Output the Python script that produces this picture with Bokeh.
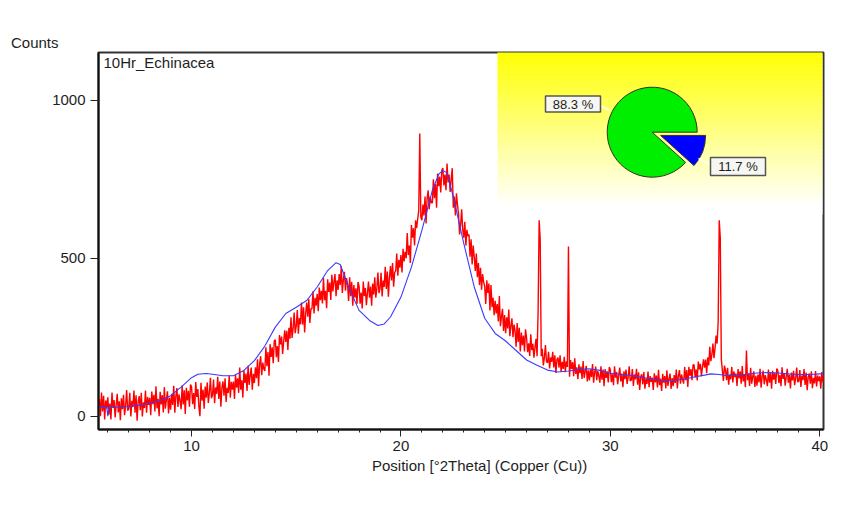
from bokeh.plotting import figure
from bokeh.models import Range1d, FixedTicker, Label, Title
from bokeh.embed import file_html
from bokeh.resources import INLINE
import math

# ---------------- data ----------------
SAMPLE_NAME = "10Hr_Echinacea"
SCAN_START = 5.6      # deg 2Theta
SCAN_STEP = 0.05      # deg 2Theta

# measured counts (red), one value per scan step from 5.60 to 40.20
RED_COUNTS = [
    55, 0, 75, 15, 65, -10, 50, 25,
    60, 5, 40, -10, 75, 26, 51, -4, 36, 71, 12, 47, -13, 57, 22, 68, 3, 33, 83, 18,
    24, 74, -1, 49, 29, 81, 11, 66, -14, 46, 64, 19, 74, -1, 44, 26, 81, 11, 61, 36,
    58, 3, 78, 38, 68, 15, 95, 25, 55, 0, 77, 37, 67, 12, 92, 24, 54, 79, 9, 59,
    21, 71, 36, 96, 11, 64, 89, 29, 69, 49, 22, 97, 37, 82, 7, 90, 50, 80, 30, 100,
    93, 38, 73, 23, 108, 61, 86, 31, 0, 106, 49, 84, 24, 94, 59, 107, 42, 72, 122, 57,
    66, 116, 41, 91, 71, 125, 55, 110, 30, 90, 110, 65, 120, 45, 90, 74, 129, 59, 109, 84,
    110, 55, 130, 90, 120, 74, 154, 84, 114, 59, 145, 105, 135, 80, 160, 99, 129, 154, 84, 134,
    105, 155, 120, 180, 95, 165, 190, 130, 170, 150, 143, 218, 158, 203, 128, 228, 188, 218, 168, 238,
    242, 187, 222, 172, 257, 227, 252, 197, 237, 272, 235, 270, 210, 280, 245, 313, 248, 278, 328, 263,
    286, 336, 261, 311, 291, 360, 290, 345, 265, 325, 360, 315, 370, 295, 340, 340, 395, 325, 375, 350,
    387, 332, 407, 367, 397, 357, 437, 367, 397, 342, 433, 393, 423, 368, 448, 395, 425, 450, 380, 430,
    400, 450, 415, 475, 390, 432, 457, 397, 437, 417, 365, 440, 380, 425, 350, 415, 375, 405, 355, 425,
    411, 356, 391, 341, 426, 381, 406, 351, 391, 426, 375, 410, 350, 420, 385, 440, 375, 405, 455, 390,
    404, 454, 379, 429, 409, 473, 403, 458, 378, 438, 475, 430, 485, 410, 455, 460, 515, 445, 495, 470,
    510, 455, 530, 490, 520, 500, 580, 510, 540, 485, 605, 565, 595, 540, 620, 595, 625, 650, 895, 630,
    620, 670, 635, 695, 610, 690, 715, 655, 695, 675, 675, 750, 690, 735, 660, 768, 728, 758, 708, 778,
    785, 730, 765, 715, 800, 740, 765, 710, 750, 785, 660, 695, 635, 705, 670, 640, 575, 605, 655, 590,
    565, 615, 540, 590, 570, 575, 505, 560, 480, 540, 505, 460, 515, 440, 485, 415, 470, 400, 450, 425,
    410, 355, 430, 390, 420, 335, 415, 345, 375, 320, 365, 325, 355, 300, 380, 285, 315, 340, 270, 320,
    263, 313, 278, 338, 253, 285, 310, 250, 290, 270, 220, 295, 235, 280, 205, 265, 225, 255, 205, 275,
    247, 203, 231, 191, 259, 209, 229, 185, 217, 245, 190, 330, 620, 560, 190, 213, 161, 185, 225, 173,
    169, 204, 151, 186, 172, 204, 154, 193, 137, 179, 186, 154, 193, 140, 172, 150, 188, 139, 174, 156,
    537, 125, 178, 150, 171, 127, 183, 134, 155, 117, 164, 136, 157, 118, 175, 121, 142, 159, 110, 145,
    113, 148, 124, 165, 106, 139, 157, 114, 143, 128, 106, 158, 116, 148, 95, 149, 121, 142, 107, 156,
    147, 108, 133, 98, 158, 122, 140, 101, 130, 154, 110, 135, 92, 142, 117, 148, 102, 123, 158, 112,
    114, 149, 96, 132, 117, 150, 100, 139, 83, 125, 133, 101, 140, 87, 119, 102, 141, 92, 127, 109,
    122, 83, 136, 107, 129, 91, 147, 98, 119, 80, 134, 106, 127, 88, 145, 96, 118, 135, 86, 121,
    95, 130, 105, 148, 88, 128, 146, 103, 132, 117, 103, 156, 114, 146, 93, 156, 128, 149, 114, 163,
    162, 123, 148, 113, 173, 148, 166, 127, 156, 180, 154, 179, 136, 186, 161, 220, 174, 195, 230, 184,
    215, 255, 230, 300, 620, 565, 180, 145, 112, 160, 146, 114, 153, 100, 132, 117, 156, 107, 142, 124,
    135, 96, 149, 120, 142, 103, 159, 110, 131, 92, 208, 114, 135, 96, 153, 103, 125, 142, 93, 128,
    97, 132, 107, 150, 90, 126, 144, 101, 130, 115, 95, 148, 106, 138, 87, 144, 116, 137, 102, 151,
    144, 105, 130, 95, 155, 118, 136, 97, 126, 150, 106, 131, 88, 138, 113, 144, 98, 119, 154, 108,
    111, 146, 93, 129, 114, 149, 99, 138, 82, 124, 135, 103, 142, 89, 121, 104, 143, 94, 129, 111,
    126, 87, 140, 108, 132,
]
TWO_THETA = [round(SCAN_START + SCAN_STEP * i, 3) for i in range(len(RED_COUNTS))]

# fitted profile (blue)
BLUE_X = [5.6, 5.95, 6.0, 6.05, 6.5, 7, 7.5, 8, 8.5, 9, 9.5, 10, 10.3, 10.7, 11, 11.5,
          12, 12.5, 13, 13.5, 14, 14.5, 15, 15.5, 16, 16.5, 16.9, 17.1, 17.5, 18, 18.5,
          18.9, 19.2, 19.5, 20, 20.5, 21, 21.5, 21.8, 22.0, 22.2, 22.5, 23, 23.5, 24,
          24.5, 25, 25.5, 26, 26.5, 27, 27.5, 28, 28.5, 29, 29.5, 30, 31, 32, 32.5, 33,
          33.5, 34, 34.5, 34.8, 35.2, 35.5, 36, 36.5, 37, 37.5, 38, 38.5, 39, 39.5, 40, 40.2]
BLUE_Y = [28, 28, 0, 28, 29, 31, 35, 41, 50, 65, 92, 122, 133, 135, 133, 128,
          128, 145, 176, 222, 282, 325, 345, 366, 409, 461, 486, 480, 409, 335, 303,
          287, 292, 314, 377, 472, 588, 715, 765, 778, 770, 694, 547, 409, 310,
          262, 238, 208, 178, 161, 146, 140, 143, 148, 150, 145, 136, 129, 118, 113, 113,
          117, 124, 130, 134, 132, 129, 129, 133, 137, 138, 137, 134, 132, 132, 134, 134]

PIE_LABELS = ["88.3 %", "11.7 %"]
PIE_VALUES = [88.3, 11.7]
PIE_COLORS = ["#00ee00", "#0000ff"]

X_TICKS = [10, 20, 30, 40]
Y_TICKS = [0, 500, 1000]

# ---------------- layout ----------------
X0, X1 = 5.556, 40.18
Y0, Y1 = -42, 1151
FL, FR, FT, FB = 98, 823, 52, 429   # frame edges in page pixels
FW, FH = FR - FL, FB - FT
W, H = 840, 505


def px_x(px):
    return X0 + (px - FL) * (X1 - X0) / FW


def px_y(py):
    return Y0 + (FB - py) * (Y1 - Y0) / FH


FONT = "Liberation Sans"
TXT = "#1e1e1e"

p = figure(width=W, height=H, output_backend="svg", toolbar_location=None,
           x_range=Range1d(X0, X1), y_range=Range1d(Y0, Y1),
           min_border_left=FL, min_border_right=W - FR,
           min_border_top=FT, min_border_bottom=H - FB)
p.background_fill_color = "white"
p.border_fill_color = "white"
p.outline_line_color = "#333333"
p.outline_line_width = 2
p.xgrid.visible = False
p.ygrid.visible = False

for ax in (p.xaxis[0], p.yaxis[0]):
    ax.axis_line_color = "#111111"
    ax.axis_line_width = 2
    ax.major_tick_line_color = "#222222"
    ax.minor_tick_line_color = "#222222"
    ax.major_tick_in = 0
    ax.minor_tick_in = 0
    ax.major_label_text_font = FONT
    ax.major_label_text_font_size = "15px"
    ax.major_label_text_color = TXT

p.xaxis.ticker = FixedTicker(ticks=X_TICKS, minor_ticks=list(range(6, 41)))
p.xaxis.major_tick_out = 7
p.xaxis.minor_tick_out = 3
p.xaxis.major_label_standoff = 4
p.yaxis.ticker = FixedTicker(ticks=Y_TICKS, minor_ticks=[])
p.yaxis.major_tick_out = 8
p.yaxis.major_label_standoff = 5

# axis titles placed like the original ("Counts" top-left, x title offset right)
p.add_layout(Title(text="Counts", align="left", offset=10.5 - FL, standoff=3,
                   text_font=FONT, text_font_size="15px", text_font_style="normal",
                   text_color=TXT), "above")
p.add_layout(Title(text="Position [°2Theta] (Copper (Cu))", align="left",
                   offset=371.5 - FL, standoff=2, text_font=FONT, text_font_size="15px",
                   text_font_style="normal", text_color=TXT), "below")

# yellow gradient panel (top right)
N = 40
gy_top, gy_bot = FT, 214
for k in range(N):
    t0 = gy_top + (gy_bot - gy_top) * k / N
    t1 = gy_top + (gy_bot - gy_top) * (k + 1) / N
    f = (k + 0.5) / N
    b = int(round(255 * min(1.0, f * 1.05)))
    p.quad(left=px_x(497), right=px_x(FR - 1), top=px_y(t0 - 0.5), bottom=px_y(t1),
           fill_color="#%02x%02x%02x" % (255, 255, b), line_color=None)

# measured pattern and fit
p.line(TWO_THETA, RED_COUNTS, line_color="#ff0000", line_width=1.4)
p.line(BLUE_X, BLUE_Y, line_color="#3a3aff", line_width=1.1)

# pie chart inset
cx, cy, r = 651.7, 131.7, 45
total = sum(PIE_VALUES)
blue_frac = PIE_VALUES[1] / total
a_blue = 2 * math.pi * blue_frac
p.wedge(x=px_x(cx), y=px_y(cy), radius=r, radius_units="screen",
        start_angle=0, end_angle=2 * math.pi - a_blue,
        fill_color=PIE_COLORS[0], line_color="#333322", line_width=1)
mid = -a_blue / 2
off = 9
bx, by = cx + off * math.cos(mid), cy - off * math.sin(mid)
p.wedge(x=px_x(bx), y=px_y(by), radius=r, radius_units="screen",
        start_angle=-a_blue, end_angle=0,
        fill_color=PIE_COLORS[1], line_color="#333322", line_width=1)

# leader lines
p.line([px_x(600), px_x(609)], [px_y(105), px_y(110)], line_color="#fffff4", line_width=1.5)
p.line([px_x(698), px_x(710)], [px_y(158), px_y(164)], line_color="#fffff4", line_width=1.5)

# label boxes
boxes = [(545, 600, 95.5, 111.5), (710, 765, 157, 175)]
for (l, rr, t, b) in boxes:
    p.quad(left=px_x(l), right=px_x(rr), top=px_y(t), bottom=px_y(b),
           fill_color="#f6f6f2", line_color="#555555", line_width=1.5)
centers = [(572.5, 103.5), (737.5, 166)]
for lab, (tx, ty) in zip(PIE_LABELS, centers):
    p.add_layout(Label(x=px_x(tx), y=px_y(ty), text=lab, text_align="center",
                       text_baseline="middle", text_font=FONT,
                       text_font_size="13px", text_color=TXT))

# sample name inside the frame
p.add_layout(Label(x=px_x(103), y=px_y(53.5), text=SAMPLE_NAME, text_align="left",
                   text_baseline="top", text_font=FONT, text_font_size="15px",
                   text_color=TXT))

open("out.html", "w").write(file_html(p, INLINE))
